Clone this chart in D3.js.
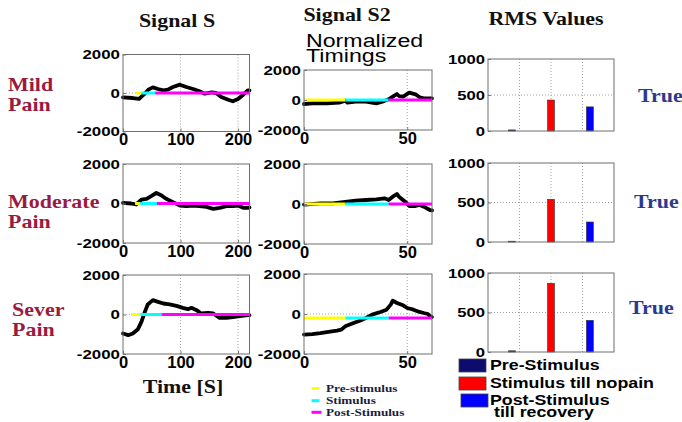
<!DOCTYPE html>
<html>
<head>
<meta charset="utf-8">
<script src="https://cdn.jsdelivr.net/npm/d3@7"></script>
<style>
  body { margin: 0; background: #fff; }
</style>
</head>
<body>
<div id="chart"></div>
<script>
// ---- data ----
const rowNames = [['Mild', 'Pain'], ['Moderate', 'Pain'], ['Sever', 'Pain']];
const verdicts = ['True', 'True', 'True'];

// Signal S : [time (s), amplitude]
const mildS = [[0,-225],[17,-260],[28,-310],[36,-87],[44,173],[52,295],[61,208],[70,140],[78,173],[87,310],[99,433],[110,310],[122,208],[133,87],[142,-35],[154,35],[162,0],[171,-208],[183,-346],[191,-433],[200,-310],[209,-87],[217,140],[220,140]];
const moderateS = [[0,34],[14,0],[23,-50],[32,200],[41,237],[49,372],[58,541],[67,406],[75,237],[87,68],[99,-101],[110,-135],[122,-101],[133,-135],[145,-169],[157,-270],[168,-220],[180,-135],[191,-135],[200,-101],[209,-220],[217,-220],[220,-200]];
const severS = [[0,-963],[9,-1047],[17,-963],[26,-743],[32,-372],[38,135],[43,507],[52,727],[61,642],[70,557],[81,507],[93,439],[104,338],[113,270],[119,338],[128,220],[136,51],[148,84],[157,51],[168,-169],[180,-169],[191,-135],[203,-84],[217,-34],[220,-30]];

// Signal S2 : [normalized time, amplitude]
const mildS2 = [[0,-266],[4,-222],[11,-222],[17,-178],[20,-44],[21,-178],[25,-111],[30,-111],[35,-222],[38,-111],[41,44],[43,222],[45,400],[46,266],[48,222],[51,489],[54,378],[56,178],[58,111],[62,111]];
const moderateS2 = [[0,-33],[8,33],[14,33],[20,100],[25,167],[30,200],[35,234],[39,284],[41,200],[43,367],[45,501],[46,367],[49,117],[51,-100],[54,-100],[56,-50],[58,-134],[61,-301],[62,-320]];
const severS2 = [[0,-1035],[4,-1002],[8,-952],[11,-902],[16,-835],[18,-785],[20,-618],[24,-451],[27,-334],[30,-200],[33,-33],[37,100],[40,217],[42,468],[43,668],[45,551],[48,434],[50,301],[53,217],[55,134],[58,50],[60,0],[61,-117],[62,-150]];

// phase boundaries: [pre start, stimulus start, post start, end]
const phasesS = [[22, 32, 56, 220], [21, 30, 59, 220], [14, 30, 67, 220]];
const phasesS2 = [[0, 20, 41, 62], [0, 20, 41, 62], [0, 20, 41, 62]];
const phaseLevelS2 = [0, 0, -200];

// RMS values per row
const rmsPre = [15, 10, 15];
const rmsStim = [430, 540, 870];
const rmsPost = [335, 253, 401];

const phaseNames = ['Pre-stimulus', 'Stimulus', 'Post-Stimulus'];
const rmsNames = ['Pre-Stimulus', 'Stimulus till nopain', 'Post-Stimulus\ntill recovery'];

const signalTicks = [-2000, 0, 2000];
const timeTicks = [0, 100, 200];
const normTicks = [0, 50];
const rmsTicks = [0, 500, 1000];

// ---- layout / style ----
const W = 682, H = 422;
const serif = '"Liberation Serif", "Times New Roman", serif';
const sans = '"Liberation Sans", Arial, sans-serif';
const phaseColors = ['#ffff00', '#00ffff', '#ff00ff'];
const rmsColors = ['#0c0c6e', '#ff0000', '#0000ff'];

const colS = { x0: 123, x1: 249.5, rows: [[54.5, 131.5], [164, 243], [275, 354]] };
const colS2 = { x0: 304, x1: 432, rows: [[70, 130], [164, 244], [274, 354]] };
const colR = { x0: 488, x1: 614, rows: [[59, 131], [163, 242], [273, 352]] };

const svg = d3.select('#chart').append('svg')
    .attr('width', W)
    .attr('height', H)
    .style('background', '#fff');

// text is horizontally stretched in the original figure
function label(x, y, str, o = {}) {
    return svg.append('text')
        .attr('transform', `translate(${x},${y}) scale(${o.sx || 1.22},1)`)
        .attr('text-anchor', o.anchor || 'start')
        .attr('font-family', o.family || serif)
        .attr('font-weight', o.weight || 'bold')
        .attr('font-size', o.size || 18)
        .attr('fill', o.color || '#111')
        .text(str);
}

function panel(col, r, xDomain, yDomain) {
    const [top, bottom] = col.rows[r];
    const w = col.x1 - col.x0, h = bottom - top;
    const g = svg.append('g').attr('transform', `translate(${col.x0},${top})`);
    const x = d3.scaleLinear().domain(xDomain).range([0, w]);
    const y = d3.scaleLinear().domain(yDomain).range([h, 0]);
    g.append('rect').attr('width', w).attr('height', h).attr('fill', '#fff');
    return { g, x, y, w, h };
}

function grid(p, xs, ys) {
    p.g.selectAll(null).data(xs).enter().append('line')
        .attr('x1', d => p.x(d)).attr('x2', d => p.x(d))
        .attr('y1', 0).attr('y2', p.h)
        .attr('stroke', '#8a8a8a').attr('stroke-width', 0.8).attr('stroke-dasharray', '1,2');
    p.g.selectAll(null).data(ys).enter().append('line')
        .attr('x1', 0).attr('x2', p.w)
        .attr('y1', d => p.y(d)).attr('y2', d => p.y(d))
        .attr('stroke', '#8a8a8a').attr('stroke-width', 0.8).attr('stroke-dasharray', '1,2');
}

function yAxis(p, ticks, sx) {
    const a = p.g.append('g')
        .call(d3.axisLeft(p.y).tickValues(ticks).tickSize(-3).tickPadding(2.3).tickFormat(d => String(d)));
    a.select('.domain').remove();
    a.selectAll('line').attr('stroke', '#777');
    a.attr('font-family', sans).attr('font-weight', 'bold').attr('font-size', 13);
    a.selectAll('text').attr('fill', '#000').attr('transform', `scale(${sx},1)`);
}

function xAxis(p, ticks) {
    const a = p.g.append('g')
        .attr('transform', `translate(0,${p.h})`)
        .call(d3.axisBottom(p.x).tickValues(ticks).tickSize(-3).tickPadding(2).tickFormat(d => String(d)));
    a.select('.domain').remove();
    a.selectAll('line').attr('stroke', '#777');
    a.attr('font-family', sans).attr('font-weight', 'bold').attr('font-size', 16.5);
    a.selectAll('text').attr('fill', '#000');
}

function frame(p) {
    p.g.append('rect').attr('width', p.w).attr('height', p.h)
        .attr('fill', 'none').attr('stroke', '#6e6e6e').attr('stroke-width', 1);
}

function signalPanel(col, r, data, phases, level, xMax, xGrid, xTicks) {
    const p = panel(col, r, [0, xMax], [-2000, 2000]);
    grid(p, xGrid, [0]);
    const line = d3.line().x(d => p.x(d[0])).y(d => p.y(d[1]));
    p.g.append('path').datum(data)
        .attr('d', line)
        .attr('fill', 'none')
        .attr('stroke', '#000')
        .attr('stroke-width', 3.8)
        .attr('stroke-linejoin', 'round')
        .attr('stroke-linecap', 'round');
    phaseColors.forEach((c, i) => {
        p.g.append('line')
            .attr('x1', p.x(phases[i])).attr('x2', p.x(phases[i + 1]))
            .attr('y1', p.y(level)).attr('y2', p.y(level))
            .attr('stroke', c).attr('stroke-width', 3);
    });
    frame(p);
    yAxis(p, signalTicks, 1.3);
    xAxis(p, xTicks);
}

const signalsS = [mildS, moderateS, severS];
const signalsS2 = [mildS2, moderateS2, severS2];
const groupOffset = 0.235;
const barWidth = 0.22;

for (let r = 0; r < 3; r++) {
    signalPanel(colS, r, signalsS[r], phasesS[r], 0, 220, [100, 200], timeTicks);
    signalPanel(colS2, r, signalsS2[r], phasesS2[r], phaseLevelS2[r], 62, [50], normTicks);

    // RMS bars
    const p = panel(colR, r, [0, 4], [0, 1000]);
    grid(p, [1, 2, 3], [500]);
    const vals = [rmsPre[r], rmsStim[r], rmsPost[r]];
    p.g.selectAll('.bar').data(vals).enter().append('rect')
        .attr('class', 'bar')
        .attr('x', (d, i) => p.x(i + 1 + (i - 1) * groupOffset - barWidth / 2))
        .attr('width', p.x(barWidth) - p.x(0))
        .attr('y', d => p.y(d))
        .attr('height', d => p.y(0) - p.y(d))
        .attr('fill', (d, i) => rmsColors[i])
        .attr('stroke', '#333')
        .attr('stroke-width', 0.6);
    frame(p);
    yAxis(p, rmsTicks, 1.28);
}

// ---- titles ----
label(177, 27, 'Signal S', { anchor: 'middle' });
label(347, 21, 'Signal S2', { anchor: 'middle' });
label(546, 25, 'RMS Values', { anchor: 'middle' });
label(306, 46.5, 'Normalized', { family: sans, weight: 'normal', size: 19, sx: 1.22, color: '#000' });
label(306, 61.5, 'Timings', { family: sans, weight: 'normal', size: 19, sx: 1.22, color: '#000' });
label(183, 393, 'Time [S]', { anchor: 'middle' });

// ---- row labels and verdicts ----
const rowLabelPos = [[8, 91], [8, 208], [12, 316]];
rowNames.forEach((n, r) => {
    label(rowLabelPos[r][0], rowLabelPos[r][1], n[0], { color: '#9b1a40' });
    label(rowLabelPos[r][0], rowLabelPos[r][1] + 20, n[1], { color: '#9b1a40' });
});
const verdictPos = [[638, 102], [634, 208], [629, 314]];
verdicts.forEach((v, r) => {
    label(verdictPos[r][0], verdictPos[r][1], v, { color: '#2b3990' });
});

// ---- phase legend (below middle column) ----
const phaseLegendY = [388.5, 400.7, 412.3];
phaseNames.forEach((n, i) => {
    svg.append('line')
        .attr('x1', 311.5).attr('x2', i === 2 ? 321.5 : 319.5)
        .attr('y1', phaseLegendY[i]).attr('y2', phaseLegendY[i])
        .attr('stroke', phaseColors[i]).attr('stroke-width', 3);
    label(326, phaseLegendY[i] + 3.5, n, { size: 11, sx: 1.2, color: '#1c1c3c' });
});

// ---- RMS legend ----
const rmsLegendY = [359, 377, 394];
rmsNames.forEach((n, i) => {
    svg.append('rect')
        .attr('x', i === 2 ? 461 : 459).attr('y', rmsLegendY[i])
        .attr('width', 27).attr('height', 13)
        .attr('fill', rmsColors[i]).attr('stroke', '#444').attr('stroke-width', 0.8);
    n.split('\n').forEach((part, k) => {
        label(k === 0 ? 490 : 494, rmsLegendY[i] + 11 + k * 11.5, part,
            { family: sans, size: 14, sx: 1.27, color: '#000' });
    });
});
</script>
</body>
</html>
